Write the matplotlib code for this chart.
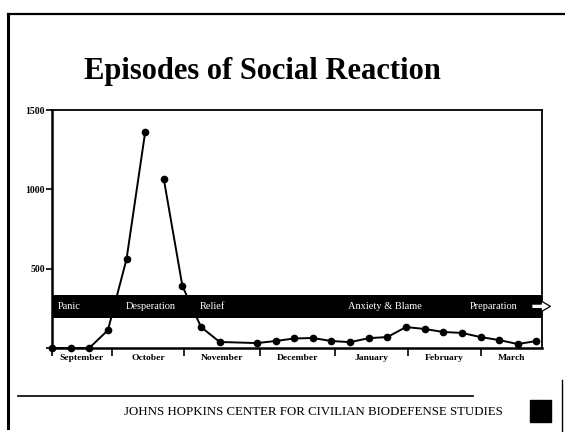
import numpy as np
import matplotlib
matplotlib.use('Agg')
import matplotlib.pyplot as plt
from matplotlib.lines import Line2D
from matplotlib.patches import Rectangle

# weekly counts of episodes (week index from start of September)
weeks_a = [0, 1, 2, 3, 4, 5]
counts_a = [0, 0, 0, 112, 560, 1360]
weeks_b = [6, 7, 8, 9, 11, 12, 13, 14, 15, 16, 17, 18, 19, 20, 21, 22, 23, 24, 25, 26]
counts_b = [1065, 390, 132, 38, 31, 44, 60, 63, 44, 37, 62, 69, 132, 120, 101, 95, 69, 50, 25, 44]

months = ['September', 'October', 'November', 'December', 'January', 'February', 'March']
month_edges = [0, 3.2, 7.1, 11.15, 15.2, 19.1, 23.05, 26.3]

phases = ['Panic', 'Desperation', 'Relief', 'Anxiety & Blame', 'Preparation']
phase_x = [0.3, 3.95, 7.95, 15.9, 22.4]
band_lo, band_hi = 190, 335

serif = ['Liberation Serif', 'DejaVu Serif']

fig = plt.figure(figsize=(5.65, 4.32), dpi=100)

# slide frame
fig.add_artist(Line2D([8 / 565, 8 / 565], [0.01, 1 - 14 / 432], transform=fig.transFigure,
                      color='black', lw=2.2))
fig.add_artist(Line2D([8 / 565, 1.0], [1 - 14 / 432, 1 - 14 / 432], transform=fig.transFigure,
                      color='black', lw=1.6))
fig.add_artist(Line2D([562 / 565, 562 / 565], [0, 52 / 432], transform=fig.transFigure,
                      color='black', lw=1.0))

fig.text(262 / 565, 1 - 71 / 432, 'Episodes of Social Reaction', ha='center', va='center',
         fontsize=22, fontweight='bold', family=serif)

ax = fig.add_axes([52 / 565, 84 / 432, 490 / 565, 238 / 432])
ax.set_xlim(month_edges[0], month_edges[-1])
ax.set_ylim(0, 1500)

ax.axhspan(band_lo, band_hi, color='black', lw=0, zorder=1)
for name, x in zip(phases, phase_x):
    ax.text(x, (band_lo + band_hi) / 2, name, color='white', fontsize=7.5,
            va='center', ha='left', family=serif, zorder=3)
ax.annotate('', xy=(26.75, (band_lo + band_hi) / 2), xytext=(25.75, (band_lo + band_hi) / 2),
            arrowprops=dict(arrowstyle='simple,head_width=0.7,head_length=0.6,tail_width=0.3',
                            fc='white', ec='black', lw=0.9, mutation_scale=11,
                            shrinkA=0, shrinkB=0),
            annotation_clip=False, zorder=4)

ax.plot(weeks_a, counts_a, color='black', lw=1.4, marker='o', ms=4.5, zorder=2, clip_on=False)
ax.plot(weeks_b, counts_b, color='black', lw=1.4, marker='o', ms=4.5, zorder=2, clip_on=False)

for side in ['left', 'bottom']:
    ax.spines[side].set_linewidth(1.8)
for side in ['top', 'right']:
    ax.spines[side].set_linewidth(1.3)

ax.set_yticks([0, 500, 1000, 1500])
ax.set_yticklabels(['', '500', '1000', '1500'])
ax.tick_params(axis='y', direction='out', length=4, width=1.2, pad=1, labelsize=7)
for lbl in ax.get_yticklabels():
    lbl.set_fontweight('bold')
    lbl.set_family(serif)

ax.set_xticks(month_edges[:-1])
ax.set_xticklabels([])
centers = [(a + b) / 2 for a, b in zip(month_edges[:-1], month_edges[1:])]
ax.set_xticks(centers, minor=True)
ax.set_xticklabels(months, minor=True)
ax.tick_params(axis='x', which='major', direction='out', length=6, width=1.2)
ax.tick_params(axis='x', which='minor', length=0, pad=4, labelsize=6.8)
for lbl in ax.get_xticklabels(minor=True):
    lbl.set_fontweight('bold')
    lbl.set_family(serif)

# footer
fig.add_artist(Line2D([18 / 565, 473 / 565], [1 - 396 / 432, 1 - 396 / 432],
                      transform=fig.transFigure, color='black', lw=1.2))
fig.text(503 / 565, 1 - 412 / 432, 'JOHNS HOPKINS CENTER FOR CIVILIAN BIODEFENSE STUDIES',
         ha='right', va='center', fontsize=9.3, family=serif)
fig.add_artist(Rectangle((530 / 565, 1 - 422 / 432), 21 / 565, 22 / 432,
                         transform=fig.transFigure, color='black'))

fig.savefig('out.png', dpi=100)
plt.close(fig)
